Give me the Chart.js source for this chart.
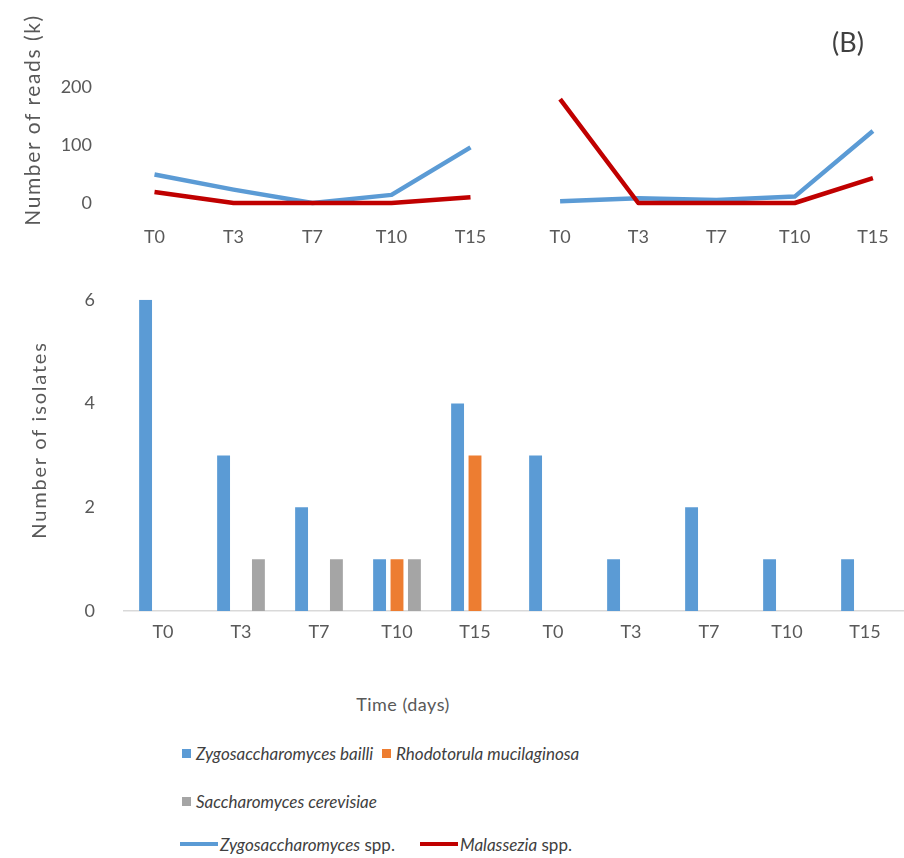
<!DOCTYPE html>
<html>
<head>
<meta charset="utf-8">
<script src="https://cdn.jsdelivr.net/npm/chart.js@4.4.1/dist/chart.umd.min.js"></script>
<style>
  html, body { margin: 0; padding: 0; background: #fff; }
  body { width: 904px; height: 858px; position: relative; overflow: hidden;
         font-family: Lato, "Liberation Sans", sans-serif; color: #595959; }
  canvas { position: absolute; }
  #readsA { left: 0; top: 0; }
  #readsB { left: 512px; top: 0; }
  #isolates { left: 0; top: 260px; }
  .txt { position: absolute; white-space: nowrap; line-height: 1; }
  #readsTitle { left: 31px; top: 120px; font-size: 21px; letter-spacing: 1.6px;
                transform: translate(-50%, -50%) rotate(-90deg); }
  #isolatesTitle { left: 38px; top: 440px; font-size: 20px; letter-spacing: 1.8px;
                   transform: translate(-50%, -50%) rotate(-90deg); }
  #panel { left: 832px; top: 28px; font-size: 27px; color: #404040; }
  #timeTitle { left: 403px; top: 704px; font-size: 18px; letter-spacing: 0.5px;
               transform: translate(-50%, -50%); }
  .key { position: absolute; display: flex; align-items: center; height: 20px;
         font-size: 17px; color: #404040; white-space: nowrap; }
  .key i { font-style: italic; }
  .swatch { width: 9px; height: 9px; margin-right: 5px; }
  .stroke { width: 38px; height: 4px; margin-right: 2px; }
</style>
</head>
<body>
<canvas id="readsA" width="520" height="260"></canvas>
<canvas id="readsB" width="400" height="260"></canvas>
<canvas id="isolates" width="904" height="420"></canvas>
<div class="txt" id="readsTitle">Number of reads (k)</div>
<div class="txt" id="isolatesTitle">Number of isolates</div>
<div class="txt" id="panel">(B)</div>
<div class="txt" id="timeTitle">Time (days)</div>
<div id="legend"></div>

<script>
// sampling days
const timePoints = ["T0", "T3", "T7", "T10", "T15"];
const isolateDays = [...timePoints, ...timePoints];

// reads (thousands), two sample sets
const zygoReadsA = [49, 23, 0, 14, 96];
const malaReadsA = [19, 0, 0, 0, 10];
const zygoReadsB = [3, 8, 5, 11, 124];
const malaReadsB = [179, 0, 0, 0, 43];
const readTicks = [0, 100, 200];

// isolates per day
const zygoBailli = [6, 3, 2, 1, 4, 3, 1, 2, 1, 1];
const rhodoMuci = [0, 0, 0, 1, 3, 0, 0, 0, 0, 0];
const saccCerev = [0, 1, 1, 1, 0, 0, 0, 0, 0, 0];
const isolateTicks = [0, 2, 4, 6];

const barNames = ["Zygosaccharomyces bailli", "Rhodotorula mucilaginosa", "Saccharomyces cerevisiae"];
const lineNames = ["Zygosaccharomyces spp.", "Malassezia spp."];

const BLUE = "#5b9bd5", ORANGE = "#ed7d31", GREY = "#a5a5a5", RED = "#c00000";
const TXT = "#595959";
const tickFont = { family: "Lato", size: 18 };

function lineSet(label, data, color, order) {
  return { label, data, borderColor: color, backgroundColor: color, order,
           borderWidth: 4.5, pointRadius: 0, tension: 0, borderJoinStyle: "round", clip: false };
}

function readsOptions(showY, padLeft) {
  return {
    responsive: false,
    animation: false,
    layout: { padding: { top: 87, left: padLeft, right: showY ? 10 : 0, bottom: 0 } },
    plugins: { legend: { display: false }, tooltip: { enabled: false } },
    scales: {
      x: {
        offset: true,
        grid: { display: false, drawTicks: false },
        border: { display: false },
        ticks: { color: TXT, font: tickFont, padding: 23, maxRotation: 0, autoSkip: false },
        afterFit: s => { s.height = 57; }
      },
      y: {
        display: showY,
        min: 0, max: 200,
        grid: { display: false, drawTicks: false },
        border: { display: false },
        ticks: { color: TXT, font: tickFont, padding: 23 },
        afterBuildTicks: s => { s.ticks = readTicks.map(v => ({ value: v })); },
        afterFit: s => { s.width = showY ? 115 : 0; }
      }
    }
  };
}

new Chart(document.getElementById("readsA"), {
  type: "line",
  data: {
    labels: timePoints,
    datasets: [
      lineSet(lineNames[0], zygoReadsA, BLUE, 2),
      lineSet(lineNames[1], malaReadsA, RED, 1)
    ]
  },
  options: readsOptions(true, 0)
});

new Chart(document.getElementById("readsB"), {
  type: "line",
  data: {
    labels: timePoints,
    datasets: [
      lineSet(lineNames[0], zygoReadsB, BLUE, 2),
      lineSet(lineNames[1], malaReadsB, RED, 1)
    ]
  },
  options: readsOptions(false, 9)
});

new Chart(document.getElementById("isolates"), {
  type: "bar",
  data: {
    labels: isolateDays,
    datasets: [
      { label: barNames[0], data: zygoBailli, backgroundColor: BLUE },
      { label: barNames[1], data: rhodoMuci, backgroundColor: ORANGE },
      { label: barNames[2], data: saccCerev, backgroundColor: GREY }
    ]
  },
  options: {
    responsive: false,
    animation: false,
    layout: { padding: { top: 33, left: 0, right: 0, bottom: 0 } },
    datasets: { bar: { categoryPercentage: 0.67, barPercentage: 0.74 } },
    plugins: { legend: { display: false }, tooltip: { enabled: false } },
    scales: {
      x: {
        grid: { display: false, drawTicks: false },
        border: { display: true, color: "#d9d9d9", width: 1.5 },
        ticks: { color: TXT, font: tickFont, padding: 10, maxRotation: 0, autoSkip: false },
        afterFit: s => { s.height = 69; }
      },
      y: {
        min: 0, max: 6,
        grid: { display: false, drawTicks: false },
        border: { display: false },
        ticks: { color: TXT, font: tickFont, padding: 29 },
        afterBuildTicks: s => { s.ticks = isolateTicks.map(v => ({ value: v })); },
        afterFit: s => { s.width = 124; }
      }
    }
  }
});

// legend shared by the three panels
function speciesHtml(name) {
  return name.endsWith(" spp.") ? "<i>" + name.slice(0, -5) + "</i>&nbsp;spp." : "<i>" + name + "</i>";
}
const legendItems = [
  { name: barNames[0], color: BLUE, kind: "swatch", x: 182, y: 753 },
  { name: barNames[1], color: ORANGE, kind: "swatch", x: 382, y: 753 },
  { name: barNames[2], color: GREY, kind: "swatch", x: 182, y: 801 },
  { name: lineNames[0], color: BLUE, kind: "stroke", x: 180, y: 844 },
  { name: lineNames[1], color: RED, kind: "stroke", x: 420, y: 844 }
];
const legend = document.getElementById("legend");
legendItems.forEach(it => {
  const el = document.createElement("div");
  el.className = "key";
  el.style.left = it.x + "px";
  el.style.top = (it.y - 10) + "px";
  el.innerHTML = '<span class="' + it.kind + '" style="background:' + it.color + '"></span>' + speciesHtml(it.name);
  legend.appendChild(el);
});
</script>
</body>
</html>
